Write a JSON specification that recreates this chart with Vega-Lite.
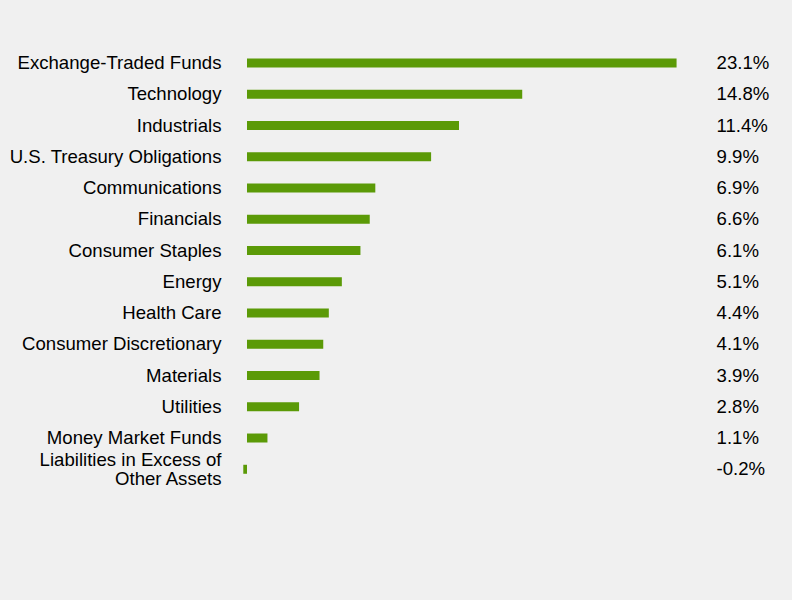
{
  "$schema": "https://vega.github.io/schema/vega-lite/v6.json",
  "description": "Sector allocation bar chart",
  "width": 530,
  "height": 437.5,
  "autosize": "none",
  "padding": {"left": 237.7, "top": 47.4, "right": 24.3, "bottom": 115.1},
  "background": "#f0f0f0",
  "data": {
    "values": [
      {"sector": "Exchange-Traded Funds", "share": 0.231},
      {"sector": "Technology", "share": 0.148},
      {"sector": "Industrials", "share": 0.114},
      {"sector": "U.S. Treasury Obligations", "share": 0.099},
      {"sector": "Communications", "share": 0.069},
      {"sector": "Financials", "share": 0.066},
      {"sector": "Consumer Staples", "share": 0.061},
      {"sector": "Energy", "share": 0.051},
      {"sector": "Health Care", "share": 0.044},
      {"sector": "Consumer Discretionary", "share": 0.041},
      {"sector": "Materials", "share": 0.039},
      {"sector": "Utilities", "share": 0.028},
      {"sector": "Money Market Funds", "share": 0.011},
      {"sector": "Liabilities in Excess of Other Assets", "share": -0.002}
    ]
  },
  "encoding": {
    "y": {
      "field": "sector",
      "type": "nominal",
      "sort": null,
      "scale": {"paddingInner": 0, "paddingOuter": 0},
      "axis": {
        "title": null,
        "domain": false,
        "ticks": false,
        "labelPadding": 16.7,
        "labelFont": "Liberation Sans",
        "labelFontSize": 18.6,
        "labelColor": "#000000",
        "labelLimit": 300,
        "labelLineHeight": 19,
        "labelOffset": {
          "condition": {"test": "datum.value == 'Liabilities in Excess of Other Assets'", "value": -9.5},
          "value": 0
        },
        "labelExpr": "datum.value == 'Liabilities in Excess of Other Assets' ? ['Liabilities in Excess of', 'Other Assets'] : datum.label"
      }
    }
  },
  "layer": [
    {
      "mark": {"type": "bar", "color": "#5b9a07", "size": 9},
      "encoding": {
        "x": {
          "field": "share",
          "type": "quantitative",
          "scale": {"domain": [-0.005, 0.28], "nice": false, "zero": false},
          "axis": null
        }
      }
    },
    {
      "mark": {
        "type": "text",
        "align": "left",
        "baseline": "middle",
        "font": "Liberation Sans",
        "fontSize": 18.6,
        "color": "#000000"
      },
      "encoding": {
        "x": {"datum": 0.2525, "type": "quantitative"},
        "text": {"field": "share", "type": "quantitative", "format": ".1%"}
      }
    }
  ],
  "config": {
    "view": {"stroke": null},
    "axis": {"grid": false},
    "locale": {
      "number": {
        "decimal": ".",
        "thousands": ",",
        "grouping": [3],
        "currency": ["$", ""],
        "minus": "-"
      }
    }
  }
}
